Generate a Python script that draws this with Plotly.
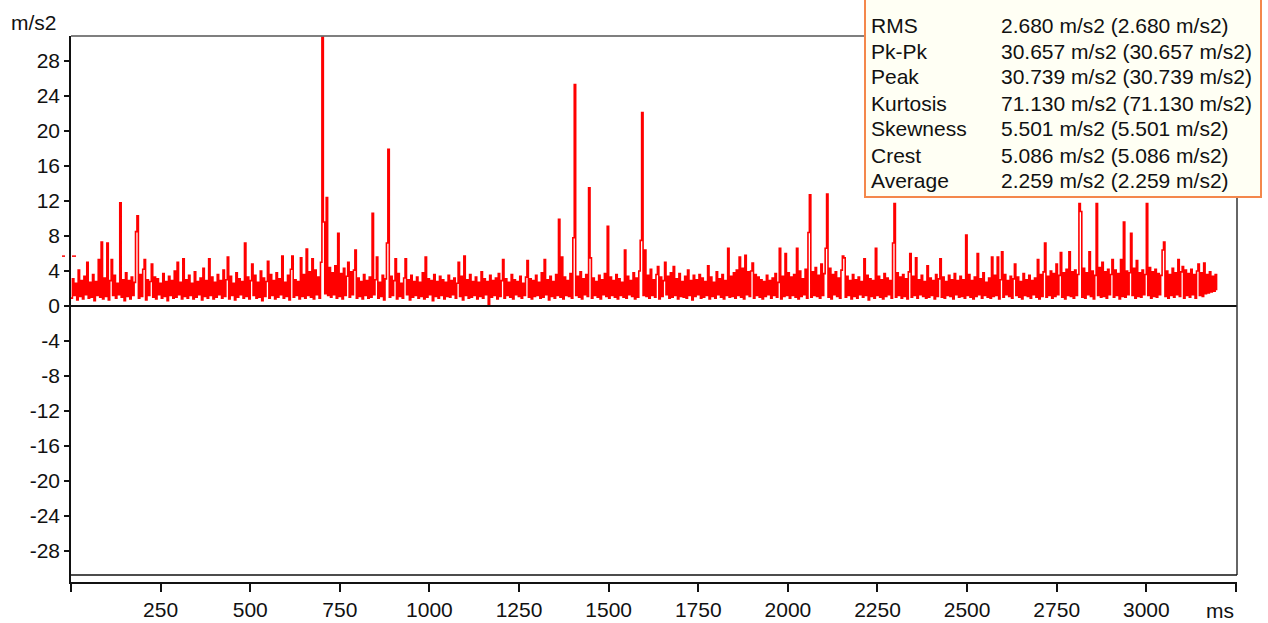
import plotly.graph_objects as go

# ---------------- data ----------------
SAMPLE_MS = 4  # spacing of the samples in ms
accel = [
    0.9,3.1,1.2,2.6,0.7,4.1,1.1,2.9,0.8,3.4,1.3,5.0,0.9,2.7,1.0,3.6,0.6,2.8,1.2,5.3,
    1.0,7.3,0.8,3.2,1.1,7.2,0.7,2.9,5.3,1.2,3.5,0.9,2.6,1.3,11.8,1.0,3.0,0.6,3.8,1.1,
    2.9,0.8,3.3,1.2,2.7,8.5,10.3,0.9,3.6,1.1,4.2,5.3,0.7,3.0,1.2,2.8,4.8,1.0,3.3,0.8,
    3.1,1.3,2.6,0.9,3.7,1.1,2.8,0.6,3.4,1.2,2.9,0.9,4.0,1.0,5.0,1.3,2.7,0.8,5.4,1.1,
    3.0,0.9,3.5,1.2,2.6,0.8,3.9,1.0,2.8,1.3,3.2,0.7,4.3,1.1,2.9,0.9,5.4,1.2,3.3,0.8,
    2.7,1.0,3.6,1.3,2.9,0.9,4.1,1.1,3.0,5.6,0.8,3.4,1.2,2.6,0.7,3.8,1.0,3.1,1.3,2.8,
    0.9,7.2,1.1,3.3,0.8,2.9,4.8,1.2,3.5,0.9,2.7,1.0,4.0,0.6,3.2,1.1,2.8,5.1,0.9,3.6,
    1.2,2.9,0.8,3.8,1.0,3.1,1.3,5.7,0.9,2.7,1.1,3.5,0.7,4.2,5.7,1.0,3.0,1.2,2.8,0.8,
    5.5,1.1,3.6,0.9,6.5,1.2,3.9,1.0,5.4,0.8,4.1,1.3,3.3,0.9,5.0,30.7,9.6,1.4,12.4,1.2,
    4.4,1.0,3.8,1.3,4.6,0.9,8.3,1.1,3.7,0.8,4.3,1.2,3.4,5.0,1.0,3.9,1.3,4.1,6.4,0.9,
    3.2,1.1,2.8,0.8,3.6,1.2,2.9,0.9,3.3,1.0,10.6,1.3,3.0,5.6,0.9,2.7,1.1,3.5,0.7,3.1,
    7.2,17.9,1.0,3.4,1.2,2.9,5.4,0.8,3.7,1.1,2.6,0.9,3.2,5.4,1.3,3.0,0.7,3.5,1.0,2.8,
    1.2,3.3,0.9,2.7,1.1,3.8,0.8,5.6,1.0,3.1,1.3,2.9,0.6,3.6,1.1,2.8,0.9,3.4,1.2,3.0,
    0.8,2.7,1.1,3.5,1.0,2.9,1.3,3.2,0.9,2.6,5.0,1.1,3.4,0.7,5.7,1.2,3.0,0.9,3.6,1.0,
    2.8,1.2,3.3,0.8,2.7,1.1,3.9,0.9,3.1,1.3,2.8,0.2,3.5,1.0,2.9,1.2,3.2,0.8,3.7,1.1,
    2.9,5.3,0.9,3.1,1.2,2.7,1.0,3.6,0.8,3.0,1.3,2.8,1.1,3.4,0.9,2.6,1.2,3.3,5.2,1.0,
    3.1,0.8,2.9,1.1,3.5,1.2,2.7,0.9,3.8,1.0,5.3,1.3,3.0,0.7,3.4,1.1,2.8,0.9,3.6,1.2,
    9.9,1.0,5.6,0.8,3.3,1.2,2.9,1.1,3.7,0.9,7.8,25.3,1.2,3.4,1.0,3.9,0.8,3.1,1.3,3.6,
    1.1,13.5,5.5,0.9,3.2,1.2,2.8,1.0,3.5,0.8,3.0,1.3,3.7,1.1,9.1,0.9,3.3,1.2,2.9,1.0,
    3.6,0.8,3.1,1.2,2.7,1.0,6.4,0.9,3.4,1.3,2.9,1.1,3.8,0.8,3.2,1.0,4.0,7.5,22.1,1.2,
    6.4,1.1,3.5,0.9,4.2,1.2,3.0,1.0,3.6,4.5,0.8,3.3,1.1,2.9,5.0,1.3,3.4,0.9,3.8,1.0,
    4.5,1.2,3.1,0.8,3.7,1.1,2.8,1.0,3.4,0.9,4.1,1.2,2.9,0.7,3.5,1.1,3.0,1.3,3.6,0.9,
    3.2,1.0,2.8,1.2,4.6,0.8,3.3,1.1,2.7,0.9,3.9,1.3,3.1,1.0,3.6,0.8,2.9,1.2,6.6,1.0,
    3.4,1.1,3.8,0.9,4.1,1.2,5.6,1.0,4.3,0.8,5.8,1.3,3.9,1.1,4.0,4.9,0.9,3.6,1.2,3.3,
    1.0,3.0,0.8,2.8,1.1,3.5,1.3,2.9,0.9,3.2,1.2,3.7,1.0,2.7,6.6,0.8,3.4,1.1,6.0,1.2,
    3.8,0.9,3.3,1.2,3.6,1.0,6.6,0.8,4.0,1.1,3.1,1.3,4.2,0.9,8.4,12.7,1.0,3.9,1.2,4.4,
    1.1,3.5,0.9,4.8,1.2,3.7,6.6,12.8,1.0,4.3,0.8,3.6,1.3,3.9,1.1,3.2,0.9,4.1,5.7,5.5,
    1.0,3.4,1.2,2.9,0.8,3.6,1.1,3.0,0.9,3.3,1.3,2.8,1.0,5.4,1.2,3.5,0.7,3.1,1.1,2.9,
    0.9,6.6,1.2,3.4,1.0,3.0,0.8,3.7,1.1,3.2,1.3,2.9,0.9,7.2,11.7,1.0,3.8,1.2,3.3,0.9,
    3.6,1.1,3.1,0.8,3.9,6.0,1.0,3.4,1.2,5.5,0.9,3.0,1.3,3.5,1.1,2.8,0.9,4.6,1.0,3.2,
    1.2,2.9,0.8,3.6,1.1,3.1,5.4,1.0,3.3,0.9,2.8,1.2,3.5,1.1,3.0,0.8,3.7,1.3,2.9,1.0,
    3.4,1.1,3.0,0.9,8.1,1.2,3.6,1.0,2.9,0.8,3.3,1.1,6.0,1.3,3.1,0.9,3.8,1.2,2.7,1.0,
    3.2,0.9,5.6,1.1,3.5,1.2,5.6,0.8,3.0,6.2,1.0,3.6,1.3,2.9,1.1,3.4,0.9,3.1,4.8,1.2,
    3.3,1.0,2.8,0.8,3.7,1.2,3.0,1.1,3.5,0.9,2.9,1.3,3.2,1.0,5.3,0.8,3.6,1.1,3.9,7.2,
    1.0,3.4,1.2,4.0,0.9,3.7,1.1,4.8,1.3,3.5,6.1,1.0,3.8,0.8,4.2,1.2,6.2,1.1,3.9,0.9,
    4.1,1.2,3.6,11.7,10.8,1.0,4.3,0.9,3.8,1.3,6.2,1.1,4.0,0.8,3.5,11.7,1.2,4.4,1.0,5.0,
    1.1,3.9,0.9,4.2,1.3,3.6,5.3,1.0,4.1,1.2,3.7,0.8,5.3,1.1,9.6,1.0,4.0,1.3,3.8,8.3,
    1.2,4.3,0.9,5.2,1.1,3.8,1.0,4.1,1.3,3.6,11.7,1.2,4.4,0.9,3.9,1.1,4.2,1.0,3.7,1.3,
    3.5,6.4,7.3,1.1,4.0,0.9,3.6,1.2,4.3,1.0,3.8,1.3,5.3,1.1,3.9,4.5,0.9,4.1,1.2,3.7,
    1.0,4.2,1.3,3.6,0.9,4.0,4.8,1.2,3.8,1.1,4.9,1.4,3.6,1.5,3.9,1.6,3.4,1.7,3.6,1.8,
]
time_ms = [i * SAMPLE_MS for i in range(len(accel))]

x_tick_vals = [0, 250, 500, 750, 1000, 1250, 1500, 1750, 2000, 2250, 2500, 2750, 3000, 3250]
x_tick_text = ["", "250", "500", "750", "1000", "1250", "1500", "1750", "2000", "2250",
               "2500", "2750", "3000", ""]
y_tick_vals = [28, 24, 20, 16, 12, 8, 4, 0, -4, -8, -12, -16, -20, -24, -28]
y_tick_text = ["28", "24", "20", "16", "12", "8", "4", "0", "-4", "-8", "-12", "-16",
               "-20", "-24", "-28"]

stat_names = ["RMS", "Pk-Pk", "Peak", "Kurtosis", "Skewness", "Crest", "Average"]
stat_values = ["2.680 m/s2 (2.680 m/s2)", "30.657 m/s2 (30.657 m/s2)",
               "30.739 m/s2 (30.739 m/s2)", "71.130 m/s2 (71.130 m/s2)",
               "5.501 m/s2 (5.501 m/s2)", "5.086 m/s2 (5.086 m/s2)",
               "2.259 m/s2 (2.259 m/s2)"]
marker_level = 5.7

# ---------------- layout helpers ----------------
W, H = 1268, 623
ML, MR, MT, MB = 71, 31, 36, 41
PW, PH = W - ML - MR, H - MT - MB


def px(x):
    return (x - ML) / PW


def py(y):
    return (H - MB - y) / PH


FONT = "Arial, 'Liberation Sans', sans-serif"
TXT = "#111111"

fig = go.Figure()
fig.add_trace(go.Scatter(x=time_ms, y=accel, mode="lines",
                         line=dict(color="#ff0000", width=1.6, shape="hv"),
                         hoverinfo="skip", showlegend=False))

shapes = [
    # plot frame (top, right, bottom)
    dict(type="line", xref="paper", yref="paper", x0=0, x1=1, y0=1, y1=1,
         line=dict(color="#555555", width=1.5), layer="above"),
    dict(type="line", xref="paper", yref="paper", x0=1, x1=1, y0=py(575), y1=1,
         line=dict(color="#333333", width=1.5), layer="above"),
    dict(type="line", xref="paper", yref="paper", x0=0, x1=1, y0=py(575), y1=py(575),
         line=dict(color=TXT, width=1.5), layer="above"),
    # small red level marker on the y axis
    dict(type="line", xref="paper", yref="y", x0=px(62), x1=px(65), y0=marker_level,
         y1=marker_level, line=dict(color="#ff0000", width=1.5), layer="above"),
    dict(type="line", xref="paper", yref="y", x0=px(72), x1=px(76), y0=marker_level,
         y1=marker_level, line=dict(color="#ff0000", width=1.5), layer="above"),
    # statistics box (top edge runs off the page)
    dict(type="rect", xref="paper", yref="paper", x0=px(865), x1=px(1261),
         y0=py(197), y1=py(-3), fillcolor="#fffff4",
         line=dict(color="#f4874b", width=2), layer="above"),
]

annotations = [
    dict(text="m/s2", xref="paper", yref="paper", x=px(9), y=py(22), xanchor="left",
         yanchor="middle", showarrow=False, font=dict(size=21, color=TXT, family=FONT)),
    dict(text="ms", xref="paper", yref="paper", x=px(1236), y=py(610), xanchor="right",
         yanchor="middle", showarrow=False, font=dict(size=21, color=TXT, family=FONT)),
]
row_y = [25, 51, 77, 103, 129, 155, 181]
for name, val, ry in zip(stat_names, stat_values, row_y):
    annotations.append(dict(text=name, xref="paper", yref="paper", x=px(869), y=py(ry),
                            xanchor="left", yanchor="middle", showarrow=False,
                            font=dict(size=21, color=TXT, family=FONT)))
    annotations.append(dict(text=val, xref="paper", yref="paper", x=px(999), y=py(ry),
                            xanchor="left", yanchor="middle", showarrow=False,
                            font=dict(size=21, color=TXT, family=FONT)))

y_top = (306 - 36) / 8.75
y_bot = -(H - MB - 306) / 8.75

fig.update_layout(
    template="none",
    width=W, height=H,
    margin=dict(l=ML, r=MR, t=MT, b=MB, pad=0, autoexpand=False),
    paper_bgcolor="white", plot_bgcolor="white",
    shapes=shapes, annotations=annotations,
    font=dict(family=FONT, size=21, color=TXT),
    xaxis=dict(range=[0, 3253], tickvals=x_tick_vals, ticktext=x_tick_text,
               automargin=False, showgrid=False, zeroline=False, showline=True,
               linecolor=TXT, linewidth=1.5, ticks="outside", ticklen=8, tickwidth=1.5,
               tickcolor=TXT, tickfont=dict(size=21, family=FONT, color=TXT)),
    yaxis=dict(range=[y_bot, y_top], tickvals=y_tick_vals, ticktext=y_tick_text,
               automargin=False, showgrid=False, zeroline=True, zerolinecolor=TXT,
               zerolinewidth=1.5, showline=True, linecolor=TXT, linewidth=1.5,
               ticks="outside", ticklen=5, tickwidth=1.5, tickcolor=TXT,
               tickfont=dict(size=21, family=FONT, color=TXT)),
)

fig.write_html("out.html")
